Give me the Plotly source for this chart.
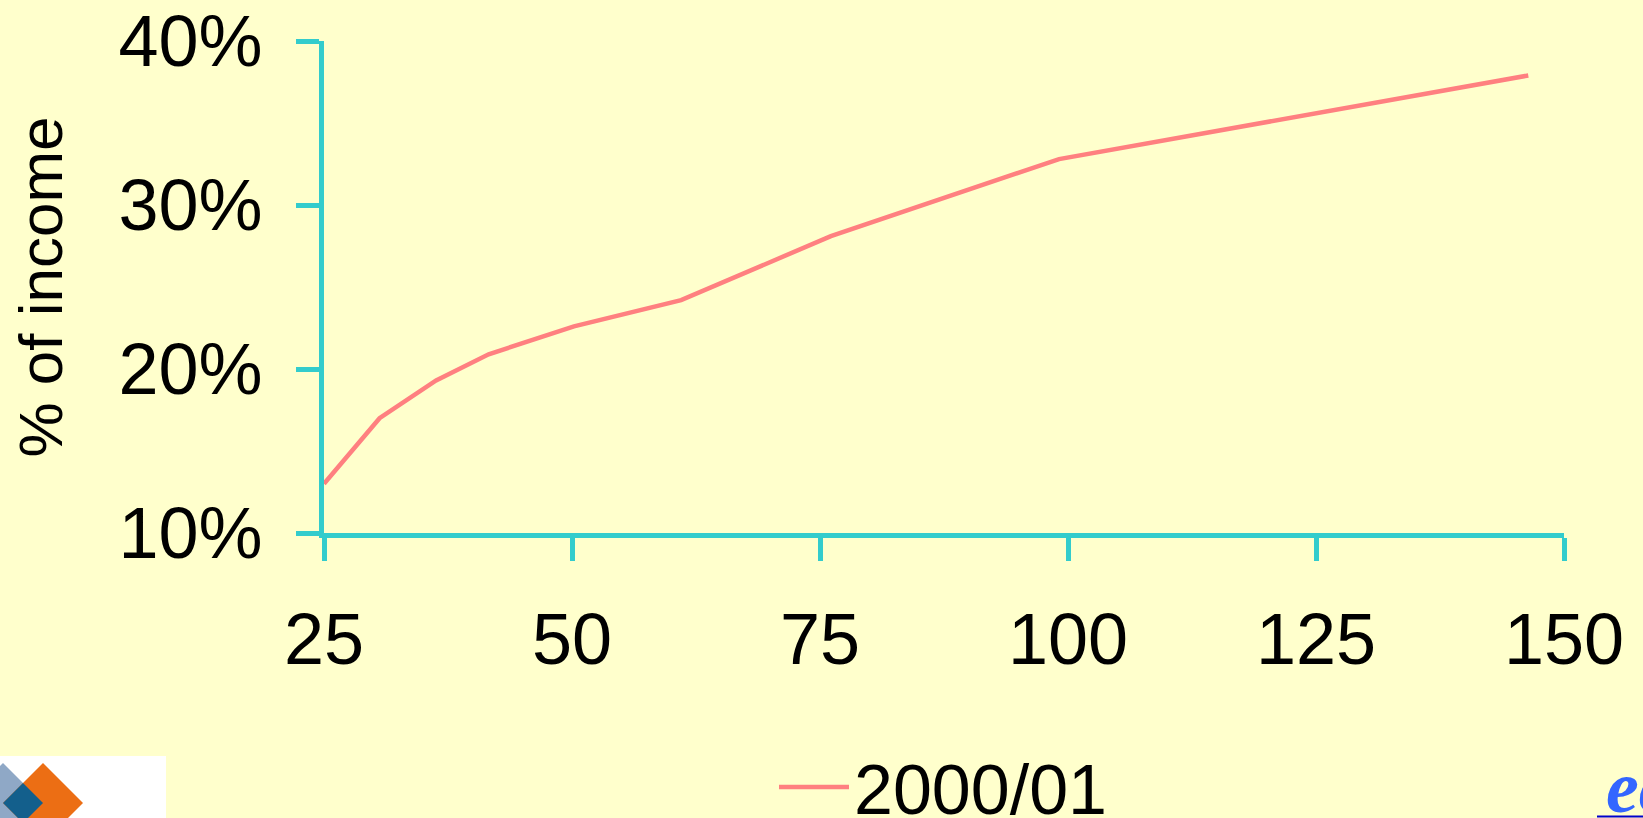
import plotly.graph_objects as go

# ---- data ----
income = [25, 30.6, 36.3, 41.6, 50.2, 61.0, 76.1, 99.1, 146.4]
pct_of_income = [13.0, 17.0, 19.3, 20.9, 22.6, 24.2, 28.1, 32.8, 37.9]
series_name = "2000/01"
x_ticks = [25, 50, 75, 100, 125, 150]
y_ticks = [10, 20, 30, 40]
y_tick_labels = ["10%", "20%", "30%", "40%"]
y_title = "% of income"

# ---- layout geometry ----
W, H = 1643, 818
ML, MR, MT, MB = 324, 79, 41, 285
PW, PH = W - ML - MR, H - MT - MB

def px(x):
    return (x - ML) / PW

def py(y):
    return (H - MB - y) / PH

BG = "#FFFFCC"
AXIS = "#33CCCC"
LINE = "#FF8080"
FONT = "Liberation Sans, Arial, sans-serif"

fig = go.Figure()
fig.add_trace(go.Scatter(
    x=income, y=pct_of_income, mode="lines", name=series_name,
    line=dict(color=LINE, width=4.5),
))

axis_common = dict(
    showline=True, linecolor=AXIS, linewidth=5,
    ticks="outside", tickcolor=AXIS, tickwidth=5, ticklen=23,
    showgrid=False, zeroline=False,
    tickfont=dict(family=FONT, size=72, color="#000000"),
)

fig.update_layout(
    width=W, height=H,
    margin=dict(l=ML, r=MR, t=MT, b=MB, pad=0, autoexpand=False),
    paper_bgcolor=BG, plot_bgcolor=BG,
    font=dict(family=FONT, color="#000000"),
    xaxis=dict(range=[25, 150], tickvals=x_ticks, ticklabelstandoff=17, **axis_common),
    yaxis=dict(range=[10, 40], tickvals=y_ticks, ticktext=y_tick_labels,
               ticklabelstandoff=19,
               title=dict(text=y_title, font=dict(family=FONT, size=62), standoff=37),
               **axis_common),
    showlegend=True,
    legend=dict(
        orientation="h", x=px(774), xanchor="left", y=py(735), yanchor="top",
        font=dict(family=FONT, size=70, color="#000000"),
        bgcolor="rgba(0,0,0,0)", itemwidth=70,
    ),
)

# logo (bottom-left)
shapes = [
    dict(type="rect", xref="paper", yref="paper",
         x0=px(0), x1=px(166), y0=py(818), y1=py(756),
         fillcolor="#FFFFFF", line=dict(width=0), layer="above"),
]

def diamond(cx, cy, r, color):
    path = (f"M {px(cx)},{py(cy - r)} L {px(cx + r)},{py(cy)} "
            f"L {px(cx)},{py(cy + r)} L {px(cx - r)},{py(cy)} Z")
    return dict(type="path", xref="paper", yref="paper", path=path,
                fillcolor=color, line=dict(width=0), layer="above")

shapes.append(diamond(3, 803, 40, "#8FA8C6"))
shapes.append(diamond(43, 803, 40, "#EC6E14"))
shapes.append(diamond(23, 803, 20, "#135F8C"))
# hyperlink underline (bottom-right)
shapes.append(dict(type="line", xref="paper", yref="paper",
                   x0=px(1597), x1=px(1643), y0=py(816.5), y1=py(816.5),
                   line=dict(color="#0000CC", width=2), layer="above"))
fig.update_layout(shapes=shapes)

fig.add_annotation(
    xref="paper", yref="paper", x=px(1604), y=py(812), xanchor="left", yanchor="bottom",
    text="<b><i>ec</i></b>", showarrow=False,
    font=dict(family="Liberation Serif, Times New Roman, serif", size=74, color="#3366FF"),
    yshift=-18,
)

fig.write_html("out.html", config={"displayModeBar": False},
               post_script="document.body.style.margin='0';")
